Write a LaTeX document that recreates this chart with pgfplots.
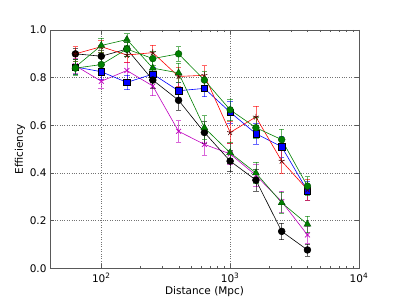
\documentclass[border=0pt]{standalone}
\usepackage{fontspec}
\setmainfont{DejaVu Sans}
\usepackage{pgfplots}
\pgfplotsset{compat=1.18}
\usepackage{pgfplotstable}
\definecolor{mplg}{rgb}{0,0.5,0}
\definecolor{mplm}{rgb}{0.75,0,0.75}
\pgfplotstableread{
x y e
63 0.90 0.025
100 0.89 0.025
158 0.92 0.03
251 0.79 0.035
398 0.705 0.04
631 0.57 0.045
1000 0.45 0.045
1585 0.37 0.045
2512 0.155 0.035
3981 0.077 0.025
}\blackdata
\pgfplotstableread{
x y e
63 0.90 0.03
100 0.93 0.025
158 0.895 0.03
251 0.905 0.03
398 0.805 0.04
631 0.81 0.04
1000 0.57 0.045
1585 0.635 0.045
2512 0.45 0.05
3981 0.33 0.045
}\reddata
\pgfplotstableread{
x y e
63 0.845 0.03
100 0.935 0.03
158 0.96 0.025
251 0.84 0.035
398 0.82 0.04
631 0.59 0.05
1000 0.485 0.045
1585 0.40 0.045
2512 0.275 0.045
3981 0.185 0.035
}\tridata
\pgfplotstableread{
x y e
63 0.84 0.03
100 0.855 0.03
158 0.92 0.03
251 0.88 0.03
398 0.90 0.03
631 0.79 0.035
1000 0.665 0.045
1585 0.59 0.045
2512 0.54 0.045
3981 0.345 0.04
}\gcircdata
\pgfplotstableread{
x y e
63 0.845 0.03
100 0.825 0.03
158 0.78 0.03
251 0.815 0.03
398 0.745 0.035
631 0.755 0.035
1000 0.655 0.045
1585 0.565 0.045
2512 0.51 0.045
3981 0.325 0.04
}\bluedata
\pgfplotstableread{
x y e
63 0.85 0.03
100 0.785 0.03
158 0.83 0.035
251 0.765 0.04
398 0.575 0.045
631 0.52 0.045
1000 0.48 0.045
1585 0.39 0.045
2512 0.28 0.045
3981 0.14 0.035
}\magdata
\begin{document}
\begin{tikzpicture}
\useasboundingbox (0,0) rectangle (399bp,299bp);
\begin{axis}[
  at={(50bp,30.7bp)}, anchor=south west,
  scale only axis, width=309bp, height=238.3bp,
  xmode=log, xmin=40, xmax=10000, ymin=0, ymax=1,
  xtick={100,1000,10000},
  xticklabels={10\textsuperscript{2},10\textsuperscript{3},10\textsuperscript{4}},
  ytick={0,0.2,0.4,0.6,0.8,1.0},
  yticklabel style={/pgf/number format/.cd, fixed, fixed zerofill, precision=1, assume math mode=true},
  tick label style={font=\fontsize{10.5bp}{12bp}\selectfont},
  label style={font=\fontsize{10.5bp}{12bp}\selectfont},
  xticklabel style={yshift=-1bp},
  xlabel={Distance (Mpc)}, ylabel={Efficiency},
  xlabel style={yshift=3bp},
  ylabel style={yshift=-2bp},
  grid=major, major grid style={dotted, black!55, line width=0.6bp},
  axis line style={black!65, line width=0.9bp},
  tick style={black!65, line width=0.6bp},
  major tick length=4bp, minor tick length=2bp,
  tick align=inside,
  every axis plot/.append style={line width=0.6bp},
  error bars/y dir=both, error bars/y explicit,
  error bars/error bar style={line width=0.6bp, opacity=0.6},
  error bars/error mark options={rotate=90, mark size=2.8bp, line width=0.6bp},
]
\addplot[mplm, mark=x, mark size=3.5bp, mark options={line width=0.7bp}] table[x=x,y=y,y error=e]{\magdata};
\addplot[blue, mark=square*, mark size=3.2bp, mark options={draw=black, fill=blue, line width=0.4bp}] table[x=x,y=y,y error=e]{\bluedata};
\addplot[black, mark=*, mark size=3.4bp, mark options={draw=black, fill=black}] table[x=x,y=y,y error=e]{\blackdata};
\addplot[red, mark=star, mark size=3.2bp, mark options={draw=black!70!red, line width=0.6bp}] table[x=x,y=y,y error=e]{\reddata};
\addplot[mplg, mark=triangle*, mark size=4bp, mark options={draw=black!70!green, fill=mplg, line width=0.4bp}] table[x=x,y=y,y error=e]{\tridata};
\addplot[mplg, mark=*, mark size=3.4bp, mark options={draw=black!70!green, fill=mplg, line width=0.4bp}] table[x=x,y=y,y error=e]{\gcircdata};
\end{axis}
\end{tikzpicture}
\end{document}
